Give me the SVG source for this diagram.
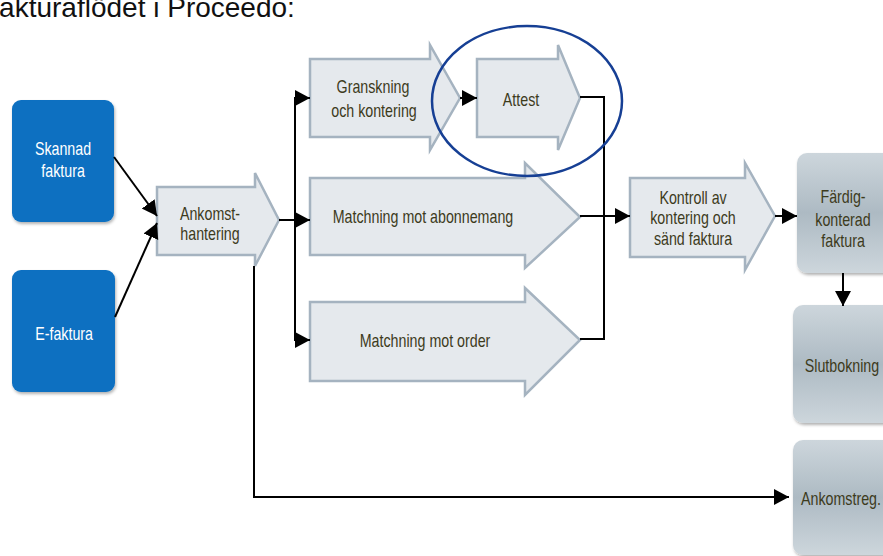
<svg xmlns="http://www.w3.org/2000/svg" width="883" height="556" viewBox="0 0 883 556">
<defs>
<style>
text{font-family:"Liberation Sans",Arial,sans-serif}
.t{font-size:19px;text-anchor:middle;transform-box:fill-box;transform-origin:center;transform:scaleX(0.75)}
.w{fill:#ffffff}
.d{fill:#3d3b1c}
.blue{fill:#0a6fc1}
.arr{fill:#e5e9ed;stroke:#a5b3c0;stroke-width:2.5}
.gbox{fill:url(#gg)}
.c{fill:none;stroke:#000;stroke-width:2}
</style>
<linearGradient id="gg" x1="0" y1="0" x2="0" y2="1">
<stop offset="0" stop-color="#cdd6dc"/>
<stop offset="0.5" stop-color="#adbac3"/>
<stop offset="1" stop-color="#cdd6dc"/>
</linearGradient>
<filter id="sh" x="-10%" y="-10%" width="130%" height="130%">
<feDropShadow dx="1" dy="2" stdDeviation="1.5" flood-color="#000" flood-opacity="0.3"/>
</filter>
<marker id="ah" markerUnits="userSpaceOnUse" markerWidth="16" markerHeight="18" refX="15" refY="8" orient="auto" viewBox="0 0 16 16">
<path d="M0,0 L15,8 L0,16 z" fill="#000"/>
</marker>
</defs>
<rect width="883" height="556" fill="#ffffff"/>
<text x="-18" y="17" font-size="28" fill="#111">Fakturaflödet i Proceedo:</text>

<g id="skannad">
<rect class="blue" x="12" y="100" width="102" height="122" rx="9" filter="url(#sh)"/>
<text class="t w" x="63" y="155">Skannad</text>
<text class="t w" x="63" y="177">faktura</text>
</g>
<g id="efaktura">
<rect class="blue" x="12" y="270" width="103" height="122" rx="9" filter="url(#sh)"/>
<text class="t w" x="64" y="340">E-faktura</text>
</g>
<g id="ankomsthantering">
<polygon class="arr" points="157,187 255,187 255,173 279,220 255,266 255,255 157,255"/>
<text class="t d" x="210" y="220">Ankomst-</text>
<text class="t d" x="210" y="240">hantering</text>
</g>
<g id="granskning">
<polygon class="arr" points="310,59 430,59 430,45 460,98 430,150 430,137 310,137"/>
<text class="t d" x="373" y="93">Granskning</text>
<text class="t d" x="374" y="117">och kontering</text>
</g>
<g id="attest">
<polygon class="arr" points="477,59 558,59 558,45 580,98 558,150 558,137 477,137"/>
<text class="t d" x="521" y="106">Attest</text>
</g>
<g id="abonnemang">
<polygon class="arr" points="310,178 525,178 525,163 580,217 525,268 525,255 310,255"/>
<text class="t d" x="423" y="223">Matchning mot abonnemang</text>
</g>
<g id="order">
<polygon class="arr" points="310,302 525,302 525,288 580,340 525,395 525,381 310,381"/>
<text class="t d" x="425" y="347">Matchning mot order</text>
</g>
<g id="kontroll">
<polygon class="arr" points="630,178 745,178 745,163 775,216 745,270 745,257 630,257"/>
<text class="t d" x="693" y="204">Kontroll av</text>
<text class="t d" x="693" y="224">kontering och</text>
<text class="t d" x="693" y="245">sänd faktura</text>
</g>
<g id="fardig">
<rect class="gbox" x="797" y="153" width="100" height="120" rx="10" filter="url(#sh)"/>
<text class="t d" x="843" y="203">Färdig-</text>
<text class="t d" x="843" y="226">konterad</text>
<text class="t d" x="843" y="247">faktura</text>
</g>
<g id="slutbokning">
<rect class="gbox" x="793" y="305" width="100" height="118" rx="10" filter="url(#sh)"/>
<text class="t d" x="842" y="372">Slutbokning</text>
</g>
<g id="ankomstreg">
<rect class="gbox" x="793" y="440" width="100" height="115" rx="10" filter="url(#sh)"/>
<text class="t d" x="841" y="505">Ankomstreg.</text>
</g>

<g id="connectors">
<path class="c" d="M114,157 L157,216" marker-end="url(#ah)"/>
<path class="c" d="M115,317 L157,223" marker-end="url(#ah)"/>
<path class="c" d="M279,220 H295 V98 H310" marker-end="url(#ah)"/>
<path class="c" d="M295,220 H310" marker-end="url(#ah)"/>
<path class="c" d="M295,220 V340 H310" marker-end="url(#ah)"/>
<path class="c" d="M460,98 H477" marker-end="url(#ah)"/>
<path class="c" d="M580,97 H604 V339 H580"/>
<path class="c" d="M580,216 H630" marker-end="url(#ah)"/>
<path class="c" d="M775,216 H797" marker-end="url(#ah)"/>
<path class="c" d="M843,273 V306" marker-end="url(#ah)"/>
<path class="c" d="M254,266 V497 H789" marker-end="url(#ah)"/>
</g>

<ellipse cx="527" cy="101" rx="95" ry="75" fill="none" stroke="#163f94" stroke-width="2.5"/>
</svg>
